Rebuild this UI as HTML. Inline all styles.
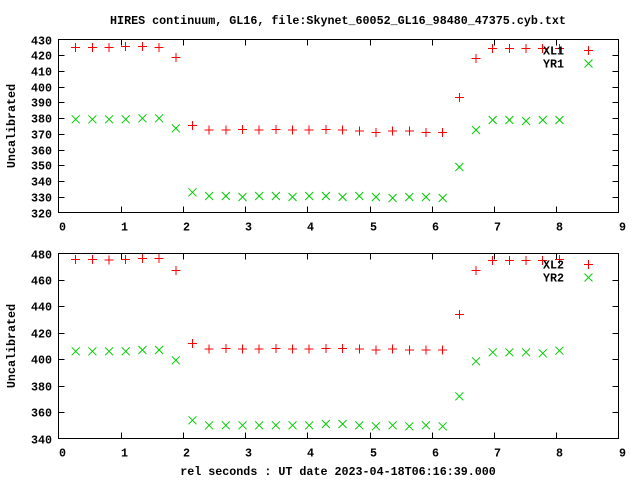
<!DOCTYPE html>
<html><head><meta charset="utf-8"><style>
html,body{margin:0;padding:0;background:#fff;}
svg text{font-family:"Liberation Mono",monospace;font-size:11.7px;font-weight:bold;fill:#000;}
</style></head><body>
<svg id="s" width="640" height="480" xmlns="http://www.w3.org/2000/svg" shape-rendering="crispEdges"></svg>
<script>
var s=document.getElementById('s'),h='';
function T(x,y,t,a,extra){h+='<text x="'+x+'" y="'+y+'" text-anchor="'+(a||'middle')+'" '+(extra||'')+'>'+t+'</text>';}
function L(x1,y1,x2,y2,c){h+='<line x1="'+x1+'" y1="'+y1+'" x2="'+x2+'" y2="'+y2+'" stroke="'+(c||'#000')+'" stroke-width="1"/>';}
function plus(x,y){L(x-4.5,y,x+4.5,y,'#f00');L(x,y-4.5,x,y+4.5,'#f00');}
function cross(x,y){h+='<path d="M'+(x-4)+' '+(y-4)+'L'+(x+4)+' '+(y+4)+'M'+(x-4)+' '+(y+4)+'L'+(x+4)+' '+(y-4)+'" stroke="#0c0" stroke-width="1" fill="none" shape-rendering="auto"/>';}
T(338,24,'HIRES continuum, GL16, file:Skynet_60052_GL16_98480_47375.cyb.txt');
function panel(top,bot,ymin,ymax,ystep,red,green,n1,n2){
  var l=58.5,r=618.5;
  h+='<rect x="'+l+'" y="'+top+'" width="'+(r-l)+'" height="'+(bot-top)+'" fill="none" stroke="#000"/>';
  for(var v=ymin;v<=ymax;v+=ystep){var y=Math.round(bot-(v-ymin)/(ymax-ymin)*(bot-top))+0.5;
    if(v>ymin&&v<ymax){L(l,y,l+6,y);L(r-6,y,r,y);}
    T(52,y+4,v,'end');}
  for(var i=0;i<=9;i++){var x=Math.round(l+i*(r-l)/9)+0.5;
    if(i>0&&i<9){L(x,bot,x,bot-6);L(x,top,x,top+6);}
    T(x+3,bot+18,i);}
  T(0,0,'Uncalibrated','middle','transform="translate(15,'+((top+bot)/2)+') rotate(-90)"');
  for(var i=0;i<30;i++){var x=75.7+i*16.68;plus(x,red[i]);cross(x,green[i]);}
  T(564,top+15,n1,'end');plus(588.5,top+11);
  T(564,top+28,n2,'end');cross(588.5,top+24);
}
var r1=[47.3,47.3,47.3,46.3,46.3,47.3,57.7,125.7,130,130,129.3,130,129.3,130,130,129.3,130,131,132.3,131,131,132.3,132.3,97.7,58.7,48.3,48.3,48.3,48.3,48.3];
var g1=[119.3,119.3,119.3,119.3,118.3,118.3,128.3,192.3,196,196,197,196,196,197,196,196,197,196,197,198,197,197,198,167,130,120,120,121,120,120];
var r2=[259.3,259.3,260,259.3,258.3,258.3,270.3,343.7,349,348.3,349,349,348.3,349,349,348.3,348.3,349,350,349,350,350,350,314.3,270.3,260.3,260.3,260.3,260.3,259.3];
var g2=[351.3,351.3,351.3,351.3,350,350,360.3,420.3,425.3,425.3,425.3,425.3,425.3,425.3,425.3,424,424,425.3,426.3,425.3,426.3,425.3,426.3,396.3,361.3,352.3,352.3,352.3,353.3,350.7];
panel(39.5,212.5,320,430,10,r1,g1,'XL1','YR1');
panel(253.5,438.5,340,480,20,r2,g2,'XL2','YR2');
T(338,475,'rel seconds : UT date 2023-04-18T06:16:39.000');
s.innerHTML=h;
</script>
</body></html>
